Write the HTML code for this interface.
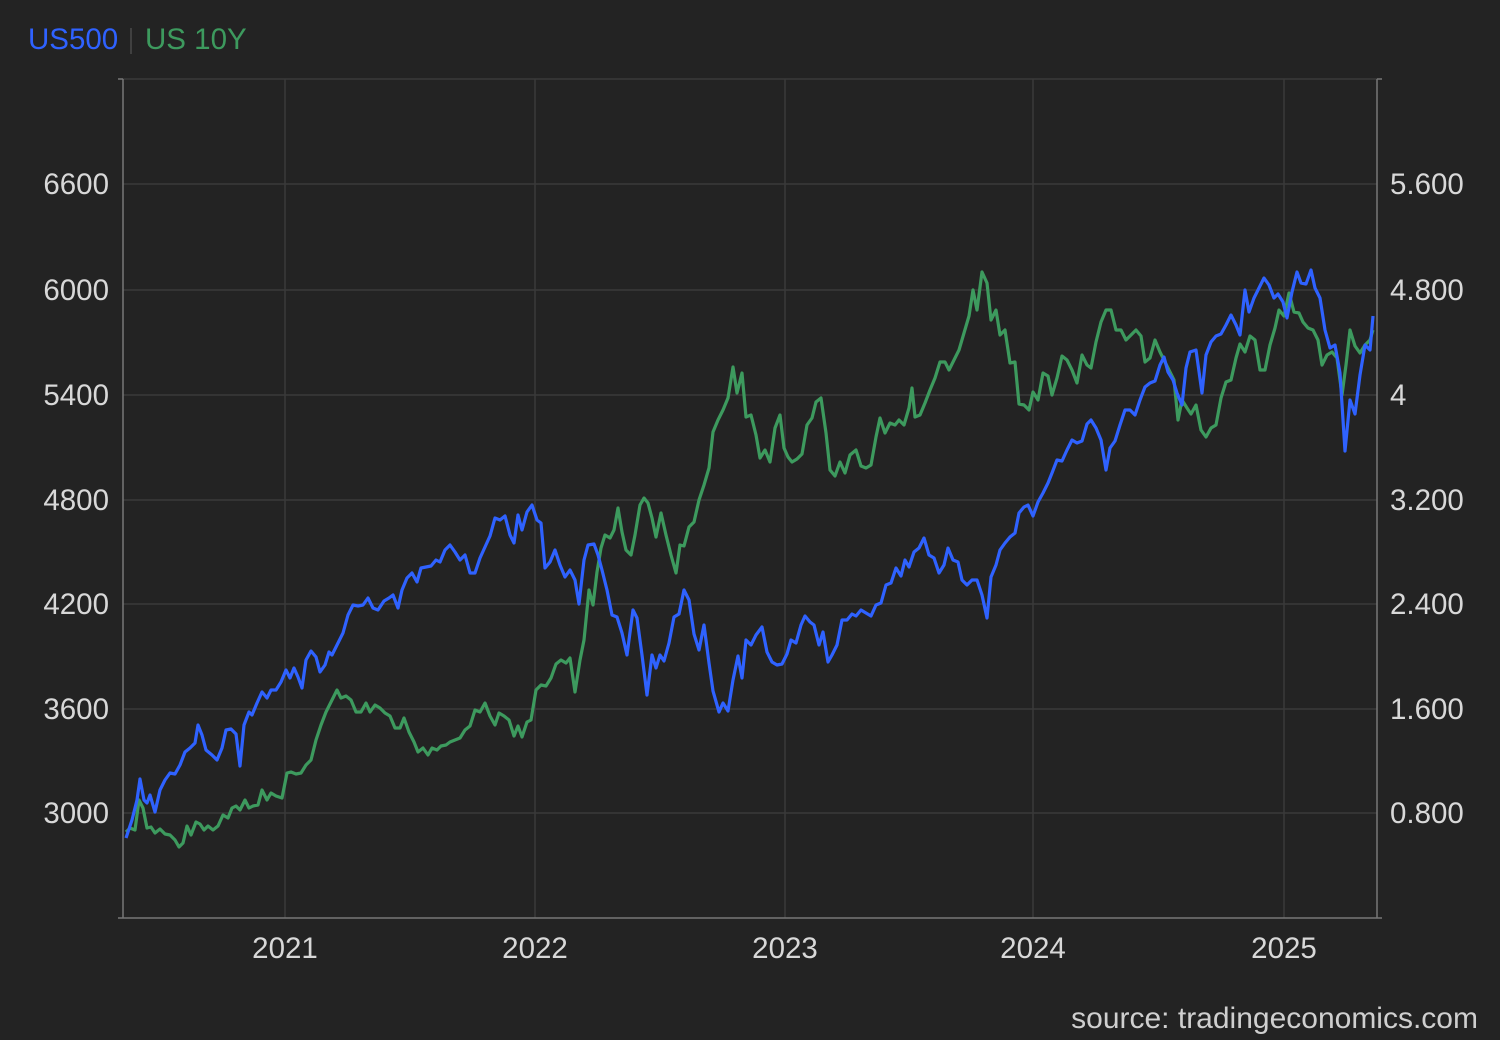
<!DOCTYPE html>
<html><head><meta charset="utf-8"><style>
html,body{margin:0;padding:0;background:#232323;}
svg{display:block;font-family:"Liberation Sans",Arial,sans-serif;}
</style></head><body>
<svg width="1500" height="1040" viewBox="0 0 1500 1040" xmlns="http://www.w3.org/2000/svg">
<rect width="1500" height="1040" fill="#232323"/>
<g stroke="#3a3a3a" stroke-width="1.5">
<line x1="123" y1="184" x2="1377" y2="184"/><line x1="123" y1="290" x2="1377" y2="290"/>
<line x1="123" y1="395" x2="1377" y2="395"/><line x1="123" y1="500" x2="1377" y2="500"/>
<line x1="123" y1="604" x2="1377" y2="604"/><line x1="123" y1="709" x2="1377" y2="709"/>
<line x1="123" y1="813" x2="1377" y2="813"/><line x1="123" y1="79" x2="1377" y2="79"/>
<line x1="285" y1="79" x2="285" y2="918"/><line x1="535" y1="79" x2="535" y2="918"/>
<line x1="785" y1="79" x2="785" y2="918"/><line x1="1033" y1="79" x2="1033" y2="918"/>
<line x1="1284" y1="79" x2="1284" y2="918"/>
</g>
<g stroke="#777" stroke-width="1.5">
<line x1="123" y1="79" x2="123" y2="918"/><line x1="1377" y1="79" x2="1377" y2="918"/>
<line x1="118" y1="918" x2="1382" y2="918"/>
<line x1="118" y1="79" x2="123" y2="79"/><line x1="1377" y1="79" x2="1382" y2="79"/>
</g>
<g fill="#d8d8d8" font-size="29.5">
<g text-anchor="end">
<text x="109" y="194">6600</text><text x="109" y="300">6000</text><text x="109" y="405">5400</text>
<text x="109" y="510">4800</text><text x="109" y="614">4200</text><text x="109" y="719">3600</text>
<text x="109" y="823">3000</text></g>
<text x="1390" y="194">5.600</text><text x="1390" y="300">4.800</text><text x="1390" y="405">4</text>
<text x="1390" y="510">3.200</text><text x="1390" y="614">2.400</text><text x="1390" y="719">1.600</text>
<text x="1390" y="823">0.800</text>
<g text-anchor="middle">
<text x="285" y="958">2021</text><text x="535" y="958">2022</text><text x="785" y="958">2023</text>
<text x="1033" y="958">2024</text><text x="1284" y="958">2025</text></g>
<text x="1478" y="1028" text-anchor="end" fill="#cfcfcf" font-size="30">source: tradingeconomics.com</text>
</g>
<text x="28" y="49" font-size="29.5" fill="#2f62ff">US500</text>
<line x1="131" y1="28" x2="131" y2="54" stroke="#4a4a4a" stroke-width="1.5"/>
<text x="145" y="49" font-size="29.5" fill="#3d9a5e">US 10Y</text>
<polyline fill="none" stroke="#3d9a5e" stroke-width="3.2" stroke-linejoin="round" points="126,832 130,828 135,830 139,800 143,808 147,828 151,827 155,833 160,829 165,834 170,835 175,840 179,847 183,843 187,826 191,835 196,822 200,824 204,830 208,826 213,830 218,826 223,815 228,818 232,808 236,806 240,810 245,800 249,808 253,806 258,805 262,790 267,800 271,793 276,796 282,798 287,773 291,772 296,774 301,773 306,765 311,760 316,740 321,725 326,712 332,700 337,690 341,698 346,696 351,700 356,712 361,712 366,703 370,712 375,705 380,708 385,713 390,716 395,728 400,728 404,718 409,732 414,742 418,752 423,748 428,755 432,748 437,750 441,746 446,745 450,742 455,740 460,738 465,730 470,726 475,710 480,712 485,703 490,716 495,725 499,713 504,716 509,720 514,736 518,726 522,737 527,722 531,720 536,690 541,685 546,686 551,678 556,664 561,660 566,663 570,658 575,692 580,660 584,640 589,590 593,605 597,572 601,548 605,535 610,538 614,530 618,508 622,532 626,550 631,555 635,535 640,505 644,498 648,503 652,518 656,537 661,513 666,535 671,555 676,573 680,545 684,546 689,527 694,522 699,500 704,485 709,468 713,432 718,420 723,410 728,398 733,367 737,393 742,373 746,417 751,415 756,435 760,458 765,450 770,462 775,428 780,415 784,448 788,457 792,462 797,459 802,454 807,425 812,418 816,402 821,398 826,433 830,470 835,476 840,462 845,473 850,455 856,450 861,466 866,468 871,465 876,437 880,418 885,433 890,423 895,425 899,420 904,425 909,408 912,388 915,417 920,415 925,403 930,390 935,378 940,362 945,362 949,370 954,360 959,350 964,333 969,316 973,290 977,310 982,272 987,283 991,320 996,310 1000,335 1005,330 1010,363 1015,362 1019,404 1024,405 1029,410 1033,392 1038,400 1043,373 1048,376 1052,395 1057,378 1062,356 1067,360 1072,370 1077,383 1082,355 1087,365 1091,368 1096,342 1101,322 1106,310 1111,310 1116,330 1121,330 1126,340 1131,335 1136,330 1141,336 1145,362 1150,358 1155,340 1160,352 1164,360 1169,370 1174,380 1178,420 1182,400 1187,408 1191,414 1196,405 1201,430 1206,437 1211,428 1216,425 1221,398 1226,382 1231,380 1236,358 1240,344 1245,352 1250,336 1255,340 1260,370 1265,370 1270,345 1275,328 1279,310 1284,316 1289,293 1294,312 1299,313 1303,322 1308,328 1313,330 1318,340 1322,365 1327,355 1332,352 1337,358 1342,395 1346,365 1350,330 1355,346 1360,353 1365,345 1370,340 1373,330"/>
<polyline fill="none" stroke="#2f62ff" stroke-width="3.2" stroke-linejoin="round" points="126,838 132,820 137,800 140,779 144,800 147,803 150,795 155,812 160,790 165,780 170,773 175,774 180,765 185,752 190,748 195,743 198,725 202,735 206,750 212,755 217,760 222,748 226,730 231,729 236,734 240,766 244,725 249,712 252,715 257,703 262,692 267,698 271,690 276,690 281,682 286,670 290,678 294,668 298,677 302,688 306,660 311,651 316,657 320,672 325,665 329,652 332,655 337,645 343,633 348,615 353,605 358,606 363,605 368,598 373,608 378,610 384,601 389,598 393,595 398,608 402,590 407,578 412,573 417,582 421,568 426,567 431,566 436,560 440,562 445,550 450,545 455,552 460,560 465,555 470,573 475,573 480,558 485,547 490,536 495,518 500,520 505,516 510,535 514,543 518,515 522,530 527,512 532,505 537,520 541,523 545,568 550,562 555,550 560,565 565,577 570,570 575,580 579,604 584,560 588,545 594,544 598,555 602,570 607,590 612,615 617,617 622,633 627,655 633,610 637,618 642,655 647,695 652,655 656,668 660,655 664,661 669,643 674,617 679,614 684,590 689,600 694,634 699,650 704,625 709,663 713,691 719,712 723,703 728,711 733,680 738,656 742,678 746,640 751,645 756,635 762,627 767,652 772,662 777,665 782,664 787,654 791,640 796,643 801,625 805,616 810,622 814,625 819,645 823,632 828,662 832,655 837,645 842,620 847,620 852,614 856,616 861,610 866,613 871,616 876,605 881,603 886,585 891,583 896,568 901,576 905,560 909,567 914,552 919,548 924,538 929,555 934,558 939,573 944,565 948,548 953,560 958,562 962,580 967,585 972,580 977,580 982,595 987,618 991,577 996,565 1000,550 1005,543 1010,537 1015,533 1019,513 1024,507 1028,505 1033,516 1038,502 1043,493 1048,483 1052,473 1057,460 1062,461 1067,450 1072,440 1077,443 1082,441 1087,424 1091,420 1096,428 1101,440 1106,470 1110,448 1115,441 1120,425 1125,410 1130,410 1135,415 1140,400 1145,387 1150,383 1155,381 1160,365 1164,357 1168,372 1173,380 1177,393 1182,405 1186,368 1190,352 1196,350 1202,393 1206,355 1211,342 1216,336 1221,334 1226,325 1231,315 1236,325 1240,335 1245,290 1249,312 1254,298 1259,288 1264,278 1269,285 1274,298 1278,294 1283,302 1287,318 1292,292 1297,272 1301,283 1306,284 1311,270 1315,288 1320,298 1325,330 1330,348 1335,345 1340,373 1345,451 1350,400 1355,414 1360,375 1365,345 1370,350 1373,316"/>
</svg>
</body></html>
